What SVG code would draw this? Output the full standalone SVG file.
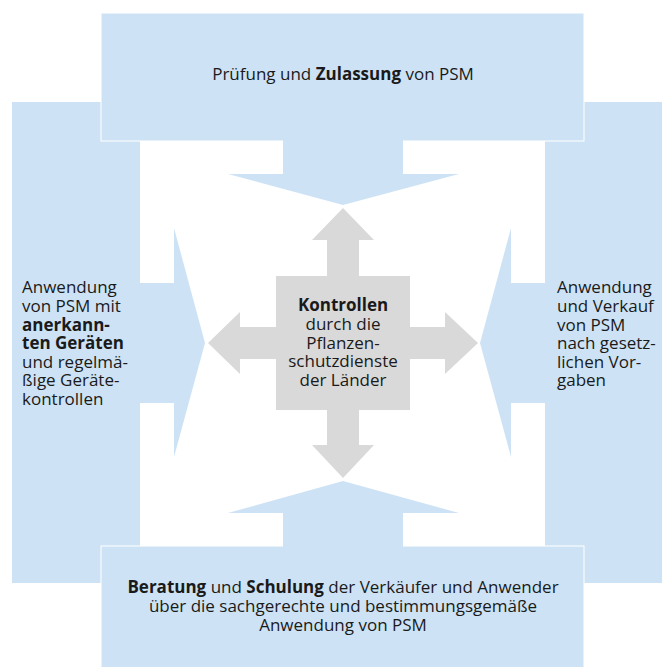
<svg xmlns="http://www.w3.org/2000/svg" width="662" height="667" viewBox="0 0 662 667">
<style>
.panel{fill:#cde3f5;stroke:none}
.box{fill:#cde3f5;stroke:#ffffff;stroke-width:1}
.cross{fill:#d9d9d9}
text{font-family:"Open Sans","Noto Sans",sans-serif;font-size:17px;fill:#1a1a1a}
.b{font-weight:bold}
.c{text-anchor:middle}
</style>
<rect width="662" height="667" fill="#ffffff"/>
<g id="left">
<polygon class="panel" points="12,102 140,102 140,283 174,283 174,228 205,343 174,457 174,403 140,403 140,583 12,583"/>
<text x="22" y="293">Anwendung</text>
<text x="22" y="312">von PSM mit</text>
<text x="22" y="330.5" class="b">anerkann-</text>
<text x="22" y="349" class="b">ten Geräten</text>
<text x="22" y="367.5">und regelmä-</text>
<text x="22" y="386">ßige Geräte-</text>
<text x="22" y="405">kontrollen</text>
</g>
<g id="right">
<polygon class="panel" points="545,102 662,102 662,583 545,583 545,403 511,403 511,457 480,343 511,228 511,283 545,283"/>
<text x="557" y="293">Anwendung</text>
<text x="557" y="312">und Verkauf</text>
<text x="557" y="330.5">von PSM</text>
<text x="557" y="349">nach gesetz-</text>
<text x="557" y="367.5">lichen Vor-</text>
<text x="557" y="386">gaben</text>
</g>
<g id="top">
<rect class="box" x="101" y="13" width="483" height="128"/>
<polygon class="panel" points="283,140 403,140 403,174 459,174 343,205 228,174 283,174"/>
<text x="343" y="80" class="c">Prüfung und <tspan class="b">Zulassung</tspan> von PSM</text>
</g>
<g id="bottom">
<rect class="box" x="101" y="546" width="483" height="125"/>
<polygon class="panel" points="283,547 403,547 403,513 459,513 343,481 228,513 283,513"/>
<text x="343" y="593" class="c"><tspan class="b">Beratung</tspan> und <tspan class="b">Schulung</tspan> der Verkäufer und Anwender</text>
<text x="343" y="612" class="c">über die sachgerechte und bestimmungsgemäße</text>
<text x="343" y="631" class="c">Anwendung von PSM</text>
</g>
<g id="center">
<polygon class="cross" points="343,208 374,240 359,240 359,276 410,276 410,327 445,327 445,312 478,343 445,374 445,359 410,359 410,410 359,410 359,445 374,445 343,478 312,445 327,445 327,410 276,410 276,359 240,359 240,374 208,343 240,312 240,327 276,327 276,276 327,276 327,240 312,240"/>
<text x="343" y="311" class="c b">Kontrollen</text>
<text x="343" y="330" class="c">durch die</text>
<text x="343" y="348.5" class="c">Pflanzen-</text>
<text x="343" y="367" class="c">schutzdienste</text>
<text x="343" y="386" class="c">der Länder</text>
</g>
<g id="connectors"/>
</svg>
